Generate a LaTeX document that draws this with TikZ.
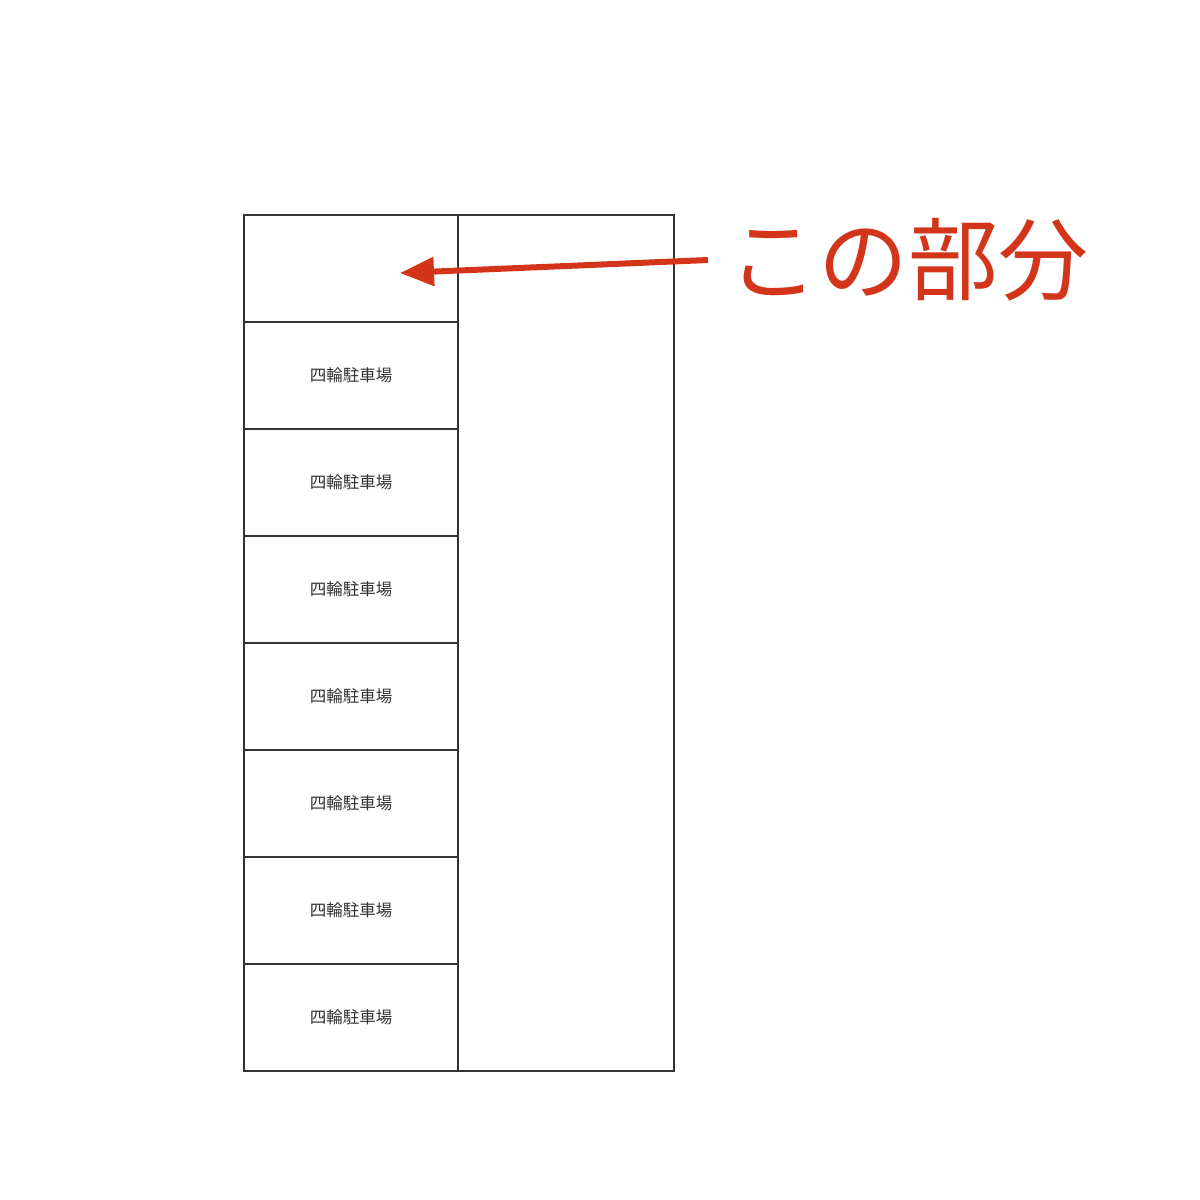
\documentclass[tikz,border=0pt]{standalone}
\usepackage{fontspec}
\newfontfamily\jpfont{Noto Sans CJK JP}
\usetikzlibrary{positioning, arrows.meta}
\definecolor{callred}{HTML}{D3351A}
\definecolor{ink}{HTML}{333333}

\begin{document}
\begin{tikzpicture}[x=1pt, y=-1pt,
    every node/.style={font=\jpfont},
    cell/.style={draw=ink, line width=1.1pt, minimum width=214pt, minimum height=107pt,
                 inner sep=0pt, outer sep=0pt, text=ink, font=\jpfont\fontsize{16.5}{18}\selectfont},
    lane/.style={draw=ink, line width=1.1pt, minimum width=216pt, minimum height=856pt,
                 inner sep=0pt, outer sep=0pt}]
    \useasboundingbox (0,0) rectangle (1200,1200);
    % top cell and the parking cells below it
    \node[cell, anchor=north west] (c0) at (244,215) {};
    \foreach \i [count=\j from 0] in {1,...,7}
        \node[cell, below=0pt of c\j] (c\i) {四輪駐車場};
    % right column
    \node[lane, anchor=north west] (lane) at (c0.north east) {};
    % callout
    \node[anchor=west, inner xsep=20pt, inner ysep=0pt, text=callred,
          font=\jpfont\fontsize{90}{92}\selectfont] (part) at (708,260) {この部分};
    \coordinate (tip) at (400,273);
    \draw[callred, line width=6pt, -{Triangle[length=34pt, width=28pt]}] (part.west) -- (tip);
\end{tikzpicture}
\end{document}
